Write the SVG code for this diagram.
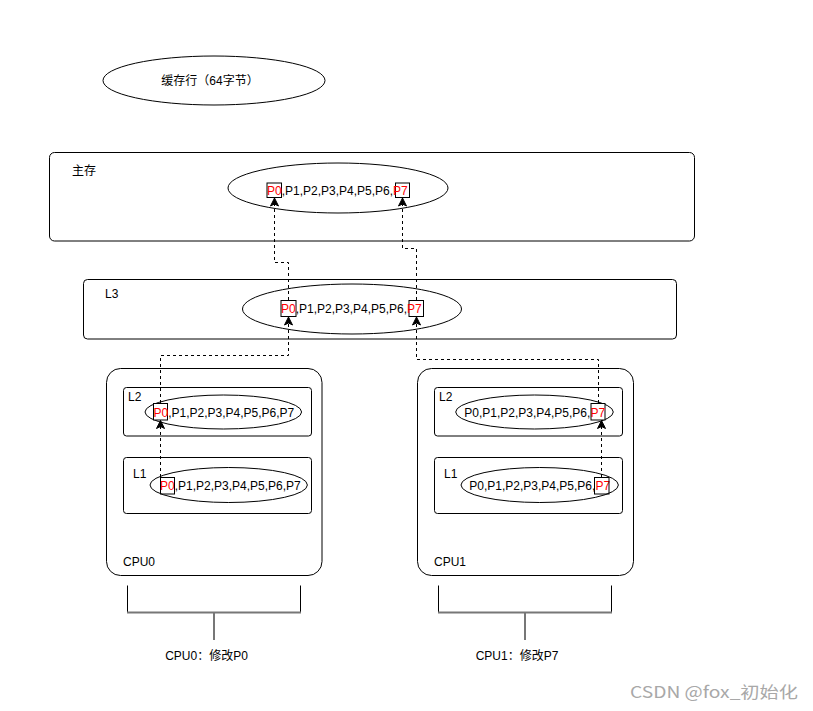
<svg xmlns="http://www.w3.org/2000/svg" width="813" height="711" viewBox="0 0 813 711">
<defs>
<style>
.t{font-family:"Liberation Sans","Noto Sans CJK SC",sans-serif;font-size:12px;fill:#000}
.r{fill:#ff0000}
.box{fill:#fff;stroke:#000;stroke-width:1}
.ell{fill:#fff;stroke:#000;stroke-width:1}
.pb{fill:#fff;stroke:#000;stroke-width:1}
.dash{fill:none;stroke:#000;stroke-width:1;stroke-dasharray:3,3}
.br{fill:none;stroke:#000;stroke-width:1}
.bh{fill:none;stroke:#777;stroke-width:2}
</style>
<marker id="ah" markerUnits="userSpaceOnUse" markerWidth="10" markerHeight="10" viewBox="0 0 10 10" refX="9" refY="5" orient="auto">
<path d="M1,1 L9,5 L1,9 L3,5 Z" fill="#000" stroke="#000" stroke-width="1"/>
</marker>
</defs>
<rect width="813" height="711" fill="#fff"/>

<g id="legend">
<ellipse class="ell" cx="214" cy="80.5" rx="111" ry="24.5"/>
<text class="t" x="210" y="84.5" text-anchor="middle">缓存行（64字节）</text>
</g>

<g id="main-memory">
<rect class="box" x="49.5" y="152.5" width="645" height="88.5" rx="5"/>
<text class="t" x="72" y="175">主存</text>
<ellipse class="ell" cx="338" cy="188" rx="110" ry="25"/>
<rect class="pb" x="267" y="183" width="14.5" height="14.5"/>
<rect class="pb" x="395.5" y="183" width="14" height="14.5"/>
<text class="t" x="267" y="194.5"><tspan class="r">P0</tspan>,P1,P2,P3,P4,P5,P6,<tspan class="r">P7</tspan></text>
</g>

<g id="l3">
<rect class="box" x="83.5" y="279.5" width="593" height="59.5" rx="4"/>
<text class="t" x="105" y="298">L3</text>
<ellipse class="ell" cx="352" cy="309" rx="109.5" ry="25"/>
<rect class="pb" x="281" y="300.5" width="15" height="16"/>
<rect class="pb" x="409" y="300.5" width="14.5" height="16"/>
<text class="t" x="281" y="313"><tspan class="r">P0</tspan>,P1,P2,P3,P4,P5,P6,<tspan class="r">P7</tspan></text>
</g>

<g id="cpu0">
<rect class="box" x="106.5" y="368.5" width="215.5" height="207" rx="14"/>
<text class="t" x="123" y="566">CPU0</text>
</g>
<g id="cpu0-l2">
<rect class="box" x="123.5" y="387.5" width="188" height="48.5" rx="3"/>
<text class="t" x="128" y="401">L2</text>
<ellipse class="ell" cx="223.3" cy="412" rx="78.3" ry="17"/>
<rect class="pb" x="153.5" y="403.5" width="14" height="16.5"/>
<text class="t" x="153.5" y="416.5"><tspan class="r">P0</tspan>,P1,P2,P3,P4,P5,P6,P7</text>
</g>
<g id="cpu0-l1">
<rect class="box" x="123.5" y="457.5" width="188" height="56" rx="3"/>
<text class="t" x="133" y="478">L1</text>
<ellipse class="ell" cx="228.7" cy="485" rx="78.7" ry="17.5"/>
<text class="t" x="160" y="490"><tspan class="r">P0</tspan>,P1,P2,P3,P4,P5,P6,P7</text>
<rect x="160.5" y="477.5" width="14" height="16.5" fill="none" stroke="#000"/>
</g>

<g id="cpu1">
<rect class="box" x="417.5" y="368.5" width="216" height="207" rx="14"/>
<text class="t" x="434" y="566">CPU1</text>
</g>
<g id="cpu1-l2">
<rect class="box" x="434.5" y="387.5" width="188" height="48.5" rx="3"/>
<text class="t" x="439" y="401">L2</text>
<ellipse class="ell" cx="534.5" cy="412" rx="78.8" ry="17"/>
<rect class="pb" x="591" y="403.5" width="14" height="16.5"/>
<text class="t" x="464.3" y="416.5">P0,P1,P2,P3,P4,P5,P6,<tspan class="r">P7</tspan></text>
</g>
<g id="cpu1-l1">
<rect class="box" x="434.5" y="457.5" width="188" height="56" rx="3"/>
<text class="t" x="444" y="478">L1</text>
<ellipse class="ell" cx="539.7" cy="485" rx="78.7" ry="17.5"/>
<text class="t" x="469.3" y="490">P0,P1,P2,P3,P4,P5,P6,<tspan class="r">P7</tspan></text>
<rect x="594.5" y="477.5" width="14.5" height="16.5" fill="none" stroke="#000"/>
</g>

<g id="connectors">
<path class="dash" d="M160.5 477 V420.5" marker-end="url(#ah)"/>
<path class="dash" d="M160.5 403 V355.5 H288.5 V317" marker-end="url(#ah)"/>
<path class="dash" d="M288.5 300 V262.5 H274.5 V198" marker-end="url(#ah)"/>
<path class="dash" d="M601.5 477 V420.5" marker-end="url(#ah)"/>
<path class="dash" d="M598.5 403 V359.5 H416.5 V317" marker-end="url(#ah)"/>
<path class="dash" d="M416.5 300 V248.5 H402.5 V198" marker-end="url(#ah)"/>
</g>

<g id="bracket0">
<path class="br" d="M127.5 585.5 V612 M300.5 585.5 V612"/>
<path class="bh" d="M127 612.5 H301 M214 612.5 V640"/>
<text class="t" x="206.5" y="660" text-anchor="middle">CPU0：修改P0</text>
</g>
<g id="bracket1">
<path class="br" d="M438.5 585.5 V612 M611.5 585.5 V612"/>
<path class="bh" d="M438 612.5 H612 M525 612.5 V640"/>
<text class="t" x="517" y="660" text-anchor="middle">CPU1：修改P7</text>
</g>

<text x="630" y="698" font-family="'Noto Sans CJK SC','Liberation Sans',sans-serif" font-size="16" fill="#a8a8a8" textLength="168" lengthAdjust="spacingAndGlyphs">CSDN @fox_初始化</text>
</svg>
